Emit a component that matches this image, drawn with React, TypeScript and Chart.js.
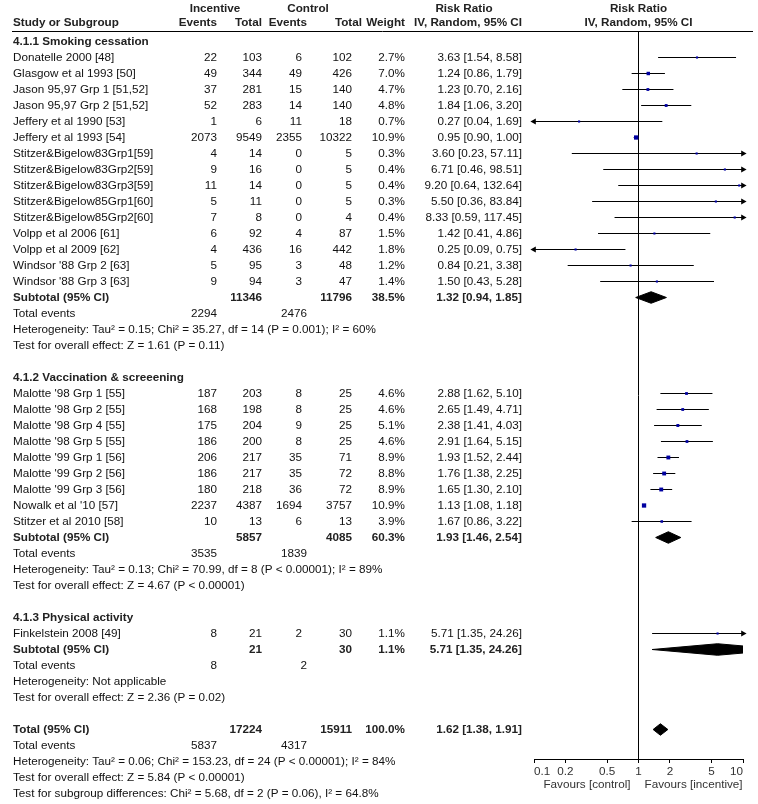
import React, { useEffect, useRef } from 'react';
import { Chart, registerables } from 'chart.js';

Chart.register(...registerables);

const FONT_FAMILY = '"Liberation Sans", Arial, Helvetica, sans-serif';
const FONT_SIZE = 11.7;
const TEXT_COLOR = '#111';

// ---------- data ----------
const groupTitles = ['4.1.1 Smoking cessation', '4.1.2 Vaccination & screeening', '4.1.3 Physical activity'];

const names1 = [
  'Donatelle 2000 [48]', 'Glasgow et al 1993 [50]', 'Jason 95,97 Grp 1 [51,52]', 'Jason 95,97 Grp 2 [51,52]',
  'Jeffery et al 1990 [53]', 'Jeffery et al 1993 [54]', 'Stitzer&Bigelow83Grp1[59]', 'Stitzer&Bigelow83Grp2[59]',
  'Stitzer&Bigelow83Grp3[59]', 'Stitzer&Bigelow85Grp1[60]', 'Stitzer&Bigelow85Grp2[60]', 'Volpp et al 2006 [61]',
  'Volpp et al 2009 [62]', "Windsor '88 Grp 2 [63]", "Windsor '88 Grp 3 [63]",
];
const incEvents1 = [22, 49, 37, 52, 1, 2073, 4, 9, 11, 5, 7, 6, 4, 5, 9];
const incTotal1 = [103, 344, 281, 283, 6, 9549, 14, 16, 14, 11, 8, 92, 436, 95, 94];
const ctlEvents1 = [6, 49, 15, 14, 11, 2355, 0, 0, 0, 0, 0, 4, 16, 3, 3];
const ctlTotal1 = [102, 426, 140, 140, 18, 10322, 5, 5, 5, 5, 4, 87, 442, 48, 47];
const weight1 = [2.7, 7.0, 4.7, 4.8, 0.7, 10.9, 0.3, 0.4, 0.4, 0.3, 0.4, 1.5, 1.8, 1.2, 1.4];
const rr1 = [3.63, 1.24, 1.23, 1.84, 0.27, 0.95, 3.60, 6.71, 9.20, 5.50, 8.33, 1.42, 0.25, 0.84, 1.50];
const lo1 = [1.54, 0.86, 0.70, 1.06, 0.04, 0.90, 0.23, 0.46, 0.64, 0.36, 0.59, 0.41, 0.09, 0.21, 0.43];
const hi1 = [8.58, 1.79, 2.16, 3.20, 1.69, 1.00, 57.11, 98.51, 132.64, 83.84, 117.45, 4.86, 0.75, 3.38, 5.28];

const names2 = [
  "Malotte '98 Grp 1 [55]", "Malotte '98 Grp 2 [55]", "Malotte '98 Grp 4 [55]", "Malotte '98 Grp 5 [55]",
  "Malotte '99 Grp 1 [56]", "Malotte '99 Grp 2 [56]", "Malotte '99 Grp 3 [56]", "Nowalk et al '10 [57]",
  'Stitzer et al 2010 [58]',
];
const incEvents2 = [187, 168, 175, 186, 206, 186, 180, 2237, 10];
const incTotal2 = [203, 198, 204, 200, 217, 217, 218, 4387, 13];
const ctlEvents2 = [8, 8, 9, 8, 35, 35, 36, 1694, 6];
const ctlTotal2 = [25, 25, 25, 25, 71, 72, 72, 3757, 13];
const weight2 = [4.6, 4.6, 5.1, 4.6, 8.9, 8.8, 8.9, 10.9, 3.9];
const rr2 = [2.88, 2.65, 2.38, 2.91, 1.93, 1.76, 1.65, 1.13, 1.67];
const lo2 = [1.62, 1.49, 1.41, 1.64, 1.52, 1.38, 1.30, 1.08, 0.86];
const hi2 = [5.10, 4.71, 4.03, 5.15, 2.44, 2.25, 2.10, 1.18, 3.22];

const names3 = ['Finkelstein 2008 [49]'];
const incEvents3 = [8];
const incTotal3 = [21];
const ctlEvents3 = [2];
const ctlTotal3 = [30];
const weight3 = [1.1];
const rr3 = [5.71];
const lo3 = [1.35];
const hi3 = [24.26];

const subIncTotal = [11346, 5857, 21];
const subCtlTotal = [11796, 4085, 30];
const subWeight = [38.5, 60.3, 1.1];
const subRR = [1.32, 1.93, 5.71];
const subLo = [0.94, 1.46, 1.35];
const subHi = [1.85, 2.54, 24.26];
const subIncEvents = [2294, 3535, 8];
const subCtlEvents = [2476, 1839, 2];
const subHet = [
  'Heterogeneity: Tau\u00b2 = 0.15; Chi\u00b2 = 35.27, df = 14 (P = 0.001); I\u00b2 = 60%',
  'Heterogeneity: Tau\u00b2 = 0.13; Chi\u00b2 = 70.99, df = 8 (P < 0.00001); I\u00b2 = 89%',
  'Heterogeneity: Not applicable',
];
const subTest = [
  'Test for overall effect: Z = 1.61 (P = 0.11)',
  'Test for overall effect: Z = 4.67 (P < 0.00001)',
  'Test for overall effect: Z = 2.36 (P = 0.02)',
];

const totalInc = 17224;
const totalCtl = 15911;
const totalWeight = 100.0;
const totalRR = 1.62;
const totalLo = 1.38;
const totalHi = 1.91;
const totalIncEvents = 5837;
const totalCtlEvents = 4317;
const totalHet = 'Heterogeneity: Tau\u00b2 = 0.06; Chi\u00b2 = 153.23, df = 24 (P < 0.00001); I\u00b2 = 84%';
const totalTest = 'Test for overall effect: Z = 5.84 (P < 0.00001)';
const subgroupTest = 'Test for subgroup differences: Chi\u00b2 = 5.68, df = 2 (P = 0.06), I\u00b2 = 64.8%';

const tickValues = [0.1, 0.2, 0.5, 1, 2, 5, 10];
const tickLabels = ['0.1', '0.2', '0.5', '1', '2', '5', '10'];
const X_MIN = 0.1;
const X_MAX = 10;

// ---------- row model ----------
type Row = {
  kind: string; r: number; text?: string; ie?: number; it?: number; ce?: number; ct?: number;
  w?: number; rr?: number; lo?: number; hi?: number;
};

const groups = [
  { names: names1, ie: incEvents1, it: incTotal1, ce: ctlEvents1, ct: ctlTotal1, w: weight1, rr: rr1, lo: lo1, hi: hi1 },
  { names: names2, ie: incEvents2, it: incTotal2, ce: ctlEvents2, ct: ctlTotal2, w: weight2, rr: rr2, lo: lo2, hi: hi2 },
  { names: names3, ie: incEvents3, it: incTotal3, ce: ctlEvents3, ct: ctlTotal3, w: weight3, rr: rr3, lo: lo3, hi: hi3 },
];

function buildRows(): Row[] {
  const rows: Row[] = [];
  let r = 0;
  groups.forEach((g, gi) => {
    rows.push({ kind: 'group', r: r++, text: groupTitles[gi] });
    g.names.forEach((n, i) => {
      rows.push({ kind: 'study', r: r++, text: n, ie: g.ie[i], it: g.it[i], ce: g.ce[i], ct: g.ct[i], w: g.w[i], rr: g.rr[i], lo: g.lo[i], hi: g.hi[i] });
    });
    rows.push({ kind: 'summary', r: r++, text: 'Subtotal (95% CI)', it: subIncTotal[gi], ct: subCtlTotal[gi], w: subWeight[gi], rr: subRR[gi], lo: subLo[gi], hi: subHi[gi] });
    rows.push({ kind: 'events', r: r++, text: 'Total events', ie: subIncEvents[gi], ce: subCtlEvents[gi] });
    rows.push({ kind: 'text', r: r++, text: subHet[gi] });
    rows.push({ kind: 'text', r: r++, text: subTest[gi] });
    r++;
  });
  rows.push({ kind: 'summary', r: r++, text: 'Total (95% CI)', it: totalInc, ct: totalCtl, w: totalWeight, rr: totalRR, lo: totalLo, hi: totalHi });
  rows.push({ kind: 'events', r: r++, text: 'Total events', ie: totalIncEvents, ce: totalCtlEvents });
  rows.push({ kind: 'text', r: r++, text: totalHet });
  rows.push({ kind: 'text', r: r++, text: totalTest });
  rows.push({ kind: 'text', r: r++, text: subgroupTest });
  return rows;
}

const fmtRR = (rr: number, lo: number, hi: number) => `${rr.toFixed(2)} [${lo.toFixed(2)}, ${hi.toFixed(2)}]`;

// column anchors (layout)
const COL = { study: 13, ie: 217, it: 262, ce: 302, ceEv: 307, ct: 352, w: 405, rr: 522 };

const font = (bold: boolean) => `${bold ? 'bold ' : ''}${FONT_SIZE}px ${FONT_FAMILY}`;

export default function App() {
  const canvasRef = useRef<HTMLCanvasElement | null>(null);

  useEffect(() => {
    const canvas = canvasRef.current;
    if (!canvas) return;
    const rows = buildRows();
    const studies = rows.filter((r) => r.kind === 'study');
    const summaries = rows.filter((r) => r.kind === 'summary');

    const squareData = studies.map((s) => ({ x: s.rr, y: s.r }));
    const squareRadius = studies.map((s) => Math.max(2.1, 1.3 * Math.sqrt(s.w as number)) / Math.SQRT2);
    const whiskerData: any[] = [];
    studies.forEach((s) => {
      whiskerData.push({ x: s.lo, y: s.r }, { x: s.hi, y: s.r }, { x: null, y: null });
    });
    const arrowData: any[] = [];
    studies.forEach((s) => {
      if ((s.hi as number) > X_MAX) arrowData.push({ x: X_MAX, y: s.r, rot: 90 });
      if ((s.lo as number) < X_MIN) arrowData.push({ x: X_MIN, y: s.r, rot: -90 });
    });
    const DH = 0.36;
    const diamondSets = summaries.map((s) => ({
      type: 'scatter' as const,
      data: [
        { x: s.lo, y: s.r }, { x: s.rr, y: s.r - DH }, { x: s.hi, y: s.r }, { x: s.rr, y: s.r + DH }, { x: s.lo, y: s.r },
      ],
      showLine: true,
      fill: 'shape',
      backgroundColor: '#000',
      borderColor: '#000',
      borderWidth: 1,
      pointRadius: 0,
      order: 3,
    }));

    const tablePlugin = {
      id: 'forestTable',
      afterDraw(chart: any) {
        const { ctx, chartArea, scales } = chart;
        const yOf = (r: number) => scales.y.getPixelForValue(r);
        const x1 = scales.x.getPixelForValue(1);
        ctx.save();
        // header rule
        ctx.strokeStyle = '#000';
        ctx.lineWidth = 1;
        const hy = Math.round(chartArea.top) - 0.5;
        ctx.beginPath();
        ctx.moveTo(12, hy);
        ctx.lineTo(753, hy);
        ctx.stroke();

        const txt = (t: string, x: number, y: number, align: CanvasTextAlign, bold = false, color = TEXT_COLOR) => {
          ctx.font = font(bold);
          ctx.textAlign = align;
          ctx.textBaseline = 'middle';
          ctx.fillStyle = color;
          ctx.fillText(t, x, y);
        };

        // headers
        const h1 = 8.5;
        const h2 = 23;
        txt('Incentive', 215, h1, 'center', true, '#222');
        txt('Control', 308, h1, 'center', true, '#222');
        txt('Risk Ratio', 464, h1, 'center', true, '#222');
        txt('Risk Ratio', x1, h1, 'center', true, '#222');
        txt('Study or Subgroup', COL.study, h2, 'left', true, '#222');
        txt('Events', 217, h2, 'right', true, '#222');
        txt('Total', 262, h2, 'right', true, '#222');
        txt('Events', 307, h2, 'right', true, '#222');
        txt('Total', 362, h2, 'right', true, '#222');
        txt('Weight', 405, h2, 'right', true, '#222');
        txt('IV, Random, 95% CI', COL.rr, h2, 'right', true, '#222');
        txt('IV, Random, 95% CI', x1, h2, 'center', true, '#222');

        rows.forEach((row) => {
          const y = yOf(row.r);
          if (row.kind === 'group') {
            txt(row.text as string, COL.study, y, 'left', true, '#222');
          } else if (row.kind === 'study') {
            txt(row.text as string, COL.study, y, 'left');
            txt(String(row.ie), COL.ie, y, 'right');
            txt(String(row.it), COL.it, y, 'right');
            txt(String(row.ce), COL.ce, y, 'right');
            txt(String(row.ct), COL.ct, y, 'right');
            txt(`${(row.w as number).toFixed(1)}%`, COL.w, y, 'right');
            txt(fmtRR(row.rr as number, row.lo as number, row.hi as number), COL.rr, y, 'right');
          } else if (row.kind === 'summary') {
            txt(row.text as string, COL.study, y, 'left', true, '#222');
            txt(String(row.it), COL.it, y, 'right', true, '#222');
            txt(String(row.ct), COL.ct, y, 'right', true, '#222');
            txt(`${(row.w as number).toFixed(1)}%`, COL.w, y, 'right', true, '#222');
            txt(fmtRR(row.rr as number, row.lo as number, row.hi as number), COL.rr, y, 'right', true, '#222');
          } else if (row.kind === 'events') {
            txt(row.text as string, COL.study, y, 'left');
            txt(String(row.ie), COL.ie, y, 'right');
            txt(String(row.ce), COL.ceEv, y, 'right');
          } else {
            txt(row.text as string, COL.study, y, 'left');
          }
        });

        // favours labels under axis
        const fy = chartArea.bottom + 26;
        txt('Favours [control]', x1 - 8, fy, 'right', false, '#333');
        txt('Favours [incentive]', x1 + 6, fy, 'left', false, '#333');
        ctx.restore();
      },
    };

    const ROW_PX = 16;
    const FIRST_ROW_PX = 41.5;
    const TOP_PX = 32;
    const BOTTOM_PX = 759;
    const yMin = (TOP_PX - FIRST_ROW_PX) / ROW_PX;
    const yMax = yMin + (BOTTOM_PX - TOP_PX) / ROW_PX;

    const chart = new Chart(canvas, {
      type: 'scatter',
      data: {
        datasets: [
          {
            type: 'scatter',
            data: squareData,
            pointStyle: 'rect',
            pointRadius: squareRadius,
            backgroundColor: '#0000A0',
            borderColor: '#0000A0',
            borderWidth: 0,
            order: 0,
          } as any,
          {
            type: 'scatter',
            data: arrowData,
            pointStyle: 'triangle',
            pointRadius: 3.6,
            rotation: (c: any) => (c.raw && c.raw.rot) || 0,
            backgroundColor: '#000',
            borderColor: '#000',
            borderWidth: 0,
            clip: false,
            order: 1,
          } as any,
          {
            type: 'scatter',
            data: whiskerData,
            showLine: true,
            spanGaps: false,
            borderColor: '#000',
            borderWidth: 1,
            pointRadius: 0,
            order: 2,
          } as any,
          ...(diamondSets as any[]),
        ],
      },
      options: {
        responsive: false,
        animation: false,
        devicePixelRatio: 1,
        events: [],
        layout: { padding: { left: 534, right: 15, top: TOP_PX, bottom: 0 } },
        plugins: { legend: { display: false }, tooltip: { enabled: false } },
        scales: {
          x: {
            type: 'logarithmic',
            min: X_MIN,
            max: X_MAX,
            position: 'bottom',
            afterBuildTicks: (scale: any) => {
              scale.ticks = tickValues.map((v) => ({ value: v }));
            },
            afterFit: (scale: any) => {
              scale.height = 804 - BOTTOM_PX;
            },
            grid: {
              drawOnChartArea: true,
              color: (c: any) => (c.tick && c.tick.value === 1 ? '#000' : 'rgba(0,0,0,0)'),
              tickColor: '#000',
              tickLength: 4,
              lineWidth: 1,
            },
            border: { display: true, color: '#000', width: 1 },
            ticks: {
              autoSkip: false,
              maxRotation: 0,
              align: 'inner',
              padding: 2,
              color: '#333',
              font: { family: FONT_FAMILY, size: FONT_SIZE },
              callback: (_v: any, i: number) => tickLabels[i],
            },
          } as any,
          y: {
            type: 'linear',
            reverse: true,
            min: yMin,
            max: yMax,
            display: false,
          },
        },
      },
      plugins: [tablePlugin],
    } as any);

    return () => chart.destroy();
  }, []);

  return (
    <div style={{ position: 'absolute', left: 0, top: 0, width: 758, height: 804, background: '#fff' }}>
      <canvas ref={canvasRef} width={758} height={804} style={{ display: 'block' }} />
    </div>
  );
}
